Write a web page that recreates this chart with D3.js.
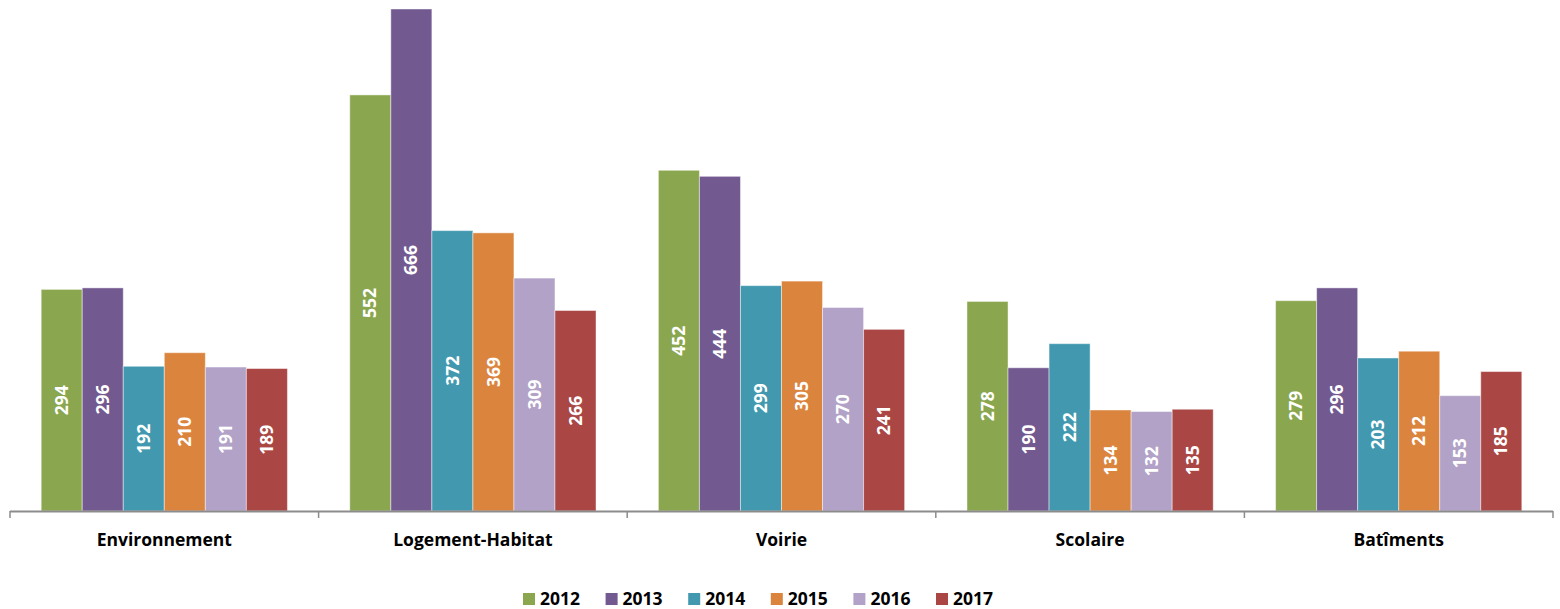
<!DOCTYPE html>
<html>
<head>
<meta charset="utf-8">
<script src="https://cdn.jsdelivr.net/npm/d3@7"></script>
<style>
  body { margin: 0; background: #fff; }
  text { font-family: "Open Sans", "Liberation Sans", sans-serif; font-weight: bold; }
</style>
</head>
<body>
<div id="chart"></div>
<script>
// categories and yearly series
const categories = ["Environnement", "Logement-Habitat", "Voirie", "Scolaire", "Batîments"];
const years = ["2012", "2013", "2014", "2015", "2016", "2017"];
const v2012 = [294, 552, 452, 278, 279];
const v2013 = [296, 666, 444, 190, 296];
const v2014 = [192, 372, 299, 222, 203];
const v2015 = [210, 369, 305, 134, 212];
const v2016 = [191, 309, 270, 132, 153];
const v2017 = [189, 266, 241, 135, 185];
const colours = ["#8aa64e", "#72598f", "#4299af", "#db843d", "#b2a2c7", "#aa4644"];

const series = [v2012, v2013, v2014, v2015, v2016, v2017];

const width = 1560, height = 609;
const svg = d3.select("#chart").append("svg")
  .attr("width", width)
  .attr("height", height);

const x0 = d3.scaleBand()
  .domain(categories)
  .range([10, 1553])
  .padding(0);

const x1 = d3.scaleBand()
  .domain(years)
  .range([0, x0.bandwidth()])
  .paddingInner(0)
  .paddingOuter(0.76);

const y = d3.scaleLinear()
  .domain([0, 666])
  .range([511, 9]);

const color = d3.scaleOrdinal().domain(years).range(colours);

// bars
const groups = svg.selectAll("g.cat")
  .data(categories)
  .enter().append("g")
  .attr("class", "cat")
  .attr("transform", d => "translate(" + x0(d) + ",0)");

groups.each(function(cat, ci) {
  const g = d3.select(this);
  const rows = years.map((yr, si) => ({year: yr, value: series[si][ci]}));

  g.selectAll("rect")
    .data(rows)
    .enter().append("rect")
    .attr("x", d => x1(d.year))
    .attr("y", d => y(d.value))
    .attr("width", x1.bandwidth())
    .attr("height", d => y(0) - y(d.value))
    .attr("fill", d => color(d.year))
    .attr("stroke", "rgba(255,255,255,0.45)")
    .attr("stroke-width", 1);

  g.selectAll("text.lbl")
    .data(rows)
    .enter().append("text")
    .attr("class", "lbl")
    .attr("transform", d => {
      const cx = x1(d.year) + x1.bandwidth() / 2;
      const cy = (y(d.value) + y(0)) / 2;
      return "translate(" + cx + "," + cy + ") rotate(-90)";
    })
    .attr("text-anchor", "middle")
    .attr("dy", "0.35em")
    .attr("fill", "#fff")
    .style("font-size", "17.5px")
    .text(d => d.value);
});

// x axis
const axisG = svg.append("g")
  .attr("transform", "translate(0," + y(0) + ")");
axisG.append("line")
  .attr("x1", 10).attr("x2", 1553)
  .attr("y1", 0.5).attr("y2", 0.5)
  .attr("stroke", "#8c8c8c")
  .attr("stroke-width", 2);

const bounds = categories.map(c => x0(c)).concat([x0.range()[1]]);
axisG.selectAll("line.tick")
  .data(bounds)
  .enter().append("line")
  .attr("class", "tick")
  .attr("x1", d => d).attr("x2", d => d)
  .attr("y1", 0).attr("y2", 7)
  .attr("stroke", "#8c8c8c")
  .attr("stroke-width", 1.5);

axisG.selectAll("text.cat")
  .data(categories)
  .enter().append("text")
  .attr("class", "cat")
  .attr("x", d => x0(d) + x0.bandwidth() / 2)
  .attr("y", 35)
  .attr("text-anchor", "middle")
  .attr("fill", "#000")
  .style("font-size", "17.5px")
  .text(d => d);

// legend
const legendX = d3.scalePoint()
  .domain(years)
  .range([523, 936]);

const legend = svg.append("g");
const items = legend.selectAll("g")
  .data(years)
  .enter().append("g")
  .attr("transform", d => "translate(" + legendX(d) + ",593)");
items.append("rect")
  .attr("width", 12).attr("height", 12)
  .attr("fill", d => color(d));
items.append("text")
  .attr("x", 17)
  .attr("y", 6)
  .attr("dy", "0.35em")
  .attr("fill", "#000")
  .style("font-size", "17.5px")
  .text(d => d);
</script>
</body>
</html>
